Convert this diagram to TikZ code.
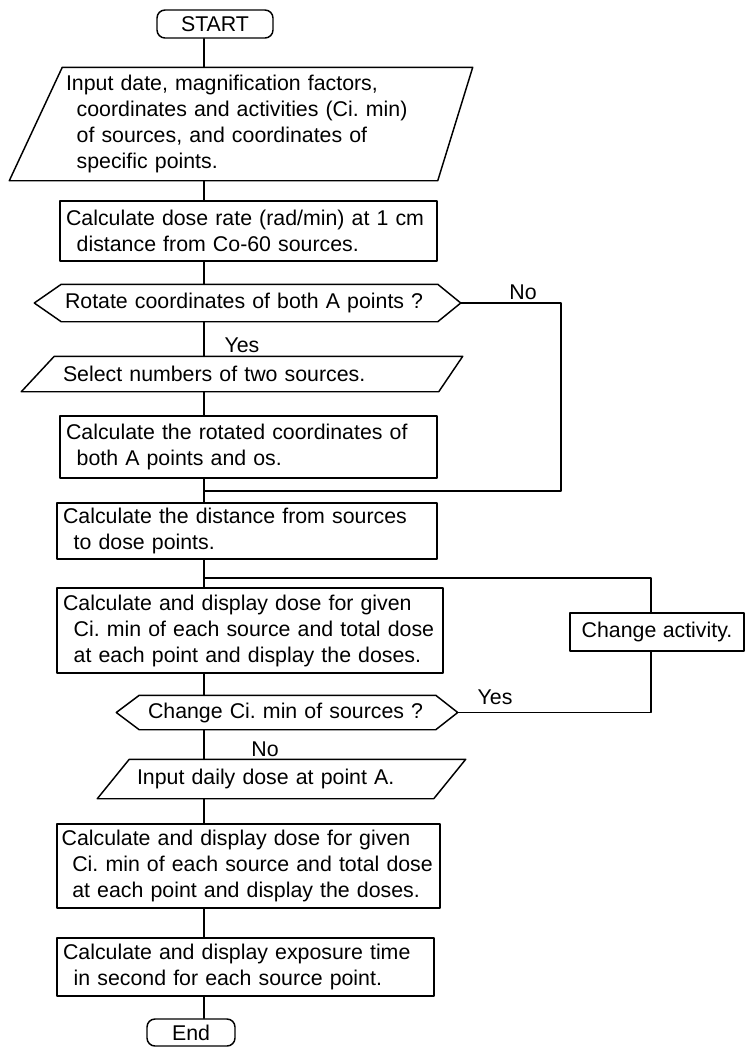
\documentclass[tikz,border=0pt]{standalone}
\usepackage{fontspec}
\setmainfont{Liberation Sans}
\usetikzlibrary{calc}

% letra de los textos y sangría de las líneas que siguen
\newcommand{\letra}{\fontsize{16}{19.5}\selectfont\frenchspacing\spaceskip 0.3em plus 0.1em minus 0.05em\relax}
\newcommand{\sang}{\hspace*{8pt}}

\begin{document}
\begin{tikzpicture}[
	% Propiedades generales del dibujo (1 unidad = 1 pixel de la figura)
	x = 0.75pt, y = -0.75pt,
	line join = round, line cap = round,
	line width = 1.1pt,
	font = \letra,
	% Definición de nuevos estilos
	% 	a. inicio y fin
	terminal/.style = {
		draw, rounded corners = 6pt,
		inner sep = 0pt
	},
	% 	b. proceso
	process/.style = {
		draw, rectangle, align = left,
		inner xsep = 4.5pt, inner ysep = 2pt
	},
	% 	c. cuerpo de los datos y de las decisiones:
	%		el contorno se dibuja aparte
	body/.style = {
		rectangle, align = left,
		inner ysep = 2pt
	},
	% 	d. respuestas de las decisiones
	answer/.style = {
		inner sep = 1pt
	},
]

	% márgenes del dibujo
	\useasboundingbox (0,0) rectangle (746,1047);

	% eje del flujo principal
	\coordinate (axis) at (204,0);

	% inicio
	\node[terminal, minimum width = 87pt, minimum height = 21pt]
		(start) at (215,24) {START};

	% datos de entrada
	\node[body, minimum width = 280.5pt, minimum height = 84pt,
		inner xsep = 2.25pt, text width = 276pt]
		(input) at (250,124)
		{Input date, magnification factors,\\
		\sang coordinates and activities  (Ci. min)\\
		\sang of sources,  and coordinates of\\
		\sang specific  points.};
	\draw
		(input.north west) -- ($(input.north east) + (35,0)$)
		-- (input.south east) -- ($(input.south west) - (53,0)$) -- cycle;

	% tasa de dosis
	\node[process, minimum width = 282.75pt, minimum height = 45pt,
		text width = 273.75pt]
		(dose) at (248.5,231)
		{Calculate dose rate (rad/min) at 1 cm\\
		\sang distance from  Co-60  sources.};

	% primera decisión
	\node[body, minimum width = 281.25pt, minimum height = 27pt,
		inner xsep = 2.25pt, text width = 276.75pt]
		(rot) at (249.5,303)
		{Rotate  coordinates  of  both A points ?};
	\coordinate (rot-l) at ($(rot.west) - (27,0)$);
	\coordinate (rot-r) at ($(rot.east) + (23,0)$);
	\draw
		(rot.north west) -- (rot.north east) -- (rot-r)
		-- (rot.south east) -- (rot.south west) -- (rot-l) -- cycle;

	\node[answer] (yes1) at (242,345) {Yes};
	\node[answer] (no1) at (523,292) {No};

	% selección de fuentes
	\node[body, minimum width = 287.25pt, minimum height = 25.5pt,
		inner xsep = 6pt, text width = 275.25pt]
		(sel) at (246.5,374)
		{Select numbers  of  two  sources.};
	\draw
		(sel.north west) -- ($(sel.north east) + (24,0)$)
		-- (sel.south east) -- ($(sel.south west) - (33,0)$) -- cycle;

	% coordenadas rotadas
	\node[process, minimum width = 282.75pt, minimum height = 46.5pt,
		text width = 273.75pt]
		(rotc) at (248.5,447)
		{Calculate the rotated coordinates of\\
		\sang both A points and os.};

	% distancias
	\node[process, minimum width = 285pt, minimum height = 42pt,
		text width = 276pt]
		(dist) at (247,531)
		{Calculate the distance from sources\\
		\sang to dose points.};

	% dosis
	\node[process, minimum width = 289.5pt, minimum height = 63.75pt,
		text width = 280.5pt]
		(disp) at (250,630.5)
		{Calculate and display dose for given\\
		\sang\mbox{Ci. min of each source and total dose}\\
		\sang at each point and display the doses.};

	% cambio de actividad
	\node[process, align = center, minimum width = 130.5pt,
		minimum height = 28.5pt]
		(chg) at (657,632) {Change activity.};

	% segunda decisión
	\node[body, minimum width = 221.25pt, minimum height = 24.75pt,
		inner xsep = 6pt, text width = 209.25pt]
		(dec2) at (287.5,712.5)
		{Change  Ci. min of sources ?};
	\coordinate (dec2-l) at ($(dec2.west) - (23,0)$);
	\coordinate (dec2-r) at ($(dec2.east) + (22,0)$);
	\draw
		(dec2.north west) -- (dec2.north east) -- (dec2-r)
		-- (dec2.south east) -- (dec2.south west) -- (dec2-l) -- cycle;

	\node[answer] (yes2) at (495,697) {Yes};
	\node[answer] (no2) at (265,749) {No};

	% dosis diaria
	\node[body, minimum width = 227.25pt, minimum height = 28.5pt,
		inner xsep = 5.25pt, text width = 216.75pt]
		(inday) at (281.5,779)
		{Input daily dose at point A.};
	\draw
		(inday.north west) -- ($(inday.north east) + (32,0)$)
		-- (inday.south east) -- ($(inday.south west) - (32,0)$) -- cycle;

	% dosis de nuevo
	\node[process, minimum width = 287.25pt, minimum height = 63pt,
		inner xsep = 3.5pt, text width = 280.25pt]
		(disp2) at (248.5,866)
		{Calculate and display dose for given\\
		\sang\mbox{Ci. min of each source and total dose}\\
		\sang at each  point  and display the doses.};

	% tiempo de exposición
	\node[process, minimum width = 282.75pt, minimum height = 43.5pt,
		text width = 273.75pt]
		(expo) at (245.5,967)
		{Calculate and display exposure time\\
		\sang in second for each source  point.};

	% fin
	\node[terminal, minimum width = 66pt, minimum height = 20.25pt]
		(end) at (191,1032.5) {End};

	% flujo principal
	\draw (start.south -| axis) -- (input.north -| axis);
	\draw (input.south -| axis) -- (dose.north -| axis);
	\draw (dose.south -| axis) -- (rot.north -| axis);
	\draw (rot.south -| axis) -- (sel.north -| axis);
	\draw (sel.south -| axis) -- (rotc.north -| axis);
	\draw (rotc.south -| axis) -- (dist.north -| axis);
	\draw (dist.south -| axis) -- (disp.north -| axis);
	\draw (disp.south -| axis) -- (dec2.north -| axis);
	\draw (dec2.south -| axis) -- (inday.north -| axis);
	\draw (inday.south -| axis) -- (disp2.north -| axis);
	\draw (disp2.south -| axis) -- (expo.north -| axis);
	\draw (expo.south -| axis) -- (end.north -| axis);

	% rama "No" de la primera decisión
	\coordinate (colA) at (561,491);
	\draw (rot-r) -| (colA) -- (colA -| axis);

	% lazo del cambio de actividad
	\coordinate (colB) at (651,578);
	\draw (colB -| axis) -- (colB) -- (colB |- chg.north);
	\draw (dec2-r) -| (colB |- chg.south);

\end{tikzpicture}
\end{document}
